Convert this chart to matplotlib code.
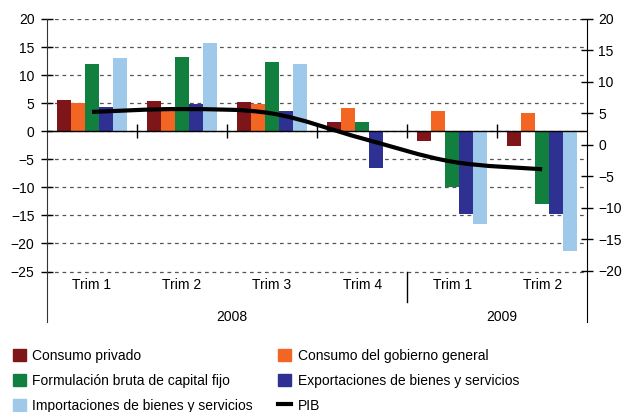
import numpy as np
import matplotlib.pyplot as plt
import matplotlib.transforms as mtransforms
from matplotlib.path import Path
from matplotlib.patches import PathPatch, Patch
from matplotlib.lines import Line2D

plt.rcParams['font.family'] = ['Liberation Sans', 'DejaVu Sans']

trimestres = ["Trim 1", "Trim 2", "Trim 3", "Trim 4", "Trim 1", "Trim 2"]
anios = ["2008", "2009"]
anio_grupos = [(0, 3), (4, 5)]

consumo_privado = [5.6, 5.4, 5.2, 1.65, -1.7, -2.6]
consumo_gobierno = [5.0, 4.3, 4.9, 4.15, 3.6, 3.25]
fbcf = [12.0, 13.2, 12.3, 1.65, -9.9, -12.9]
exportaciones = [4.3, 4.9, 3.6, -6.5, -14.8, -14.8]
importaciones = [13.0, 15.7, 12.0, 0.0, -16.5, -21.4]
pib = [5.25, 5.7, 5.0, 1.05, -2.65, -3.85]

series = [
    ("Consumo privado", consumo_privado, "#7e1519"),
    ("Consumo del gobierno general", consumo_gobierno, "#f26522"),
    ("Formulación bruta de capital fijo", fbcf, "#11803f"),
    ("Exportaciones de bienes y servicios", exportaciones, "#2e3192"),
    ("Importaciones de bienes y servicios", importaciones, "#9fc9eb"),
]


def smooth_path(xs, ys):
    # curva suave tipo Excel (Catmull-Rom -> Bezier)
    pts = np.column_stack([xs, ys]).astype(float)
    n = len(pts)
    verts = [pts[0]]
    codes = [Path.MOVETO]
    for i in range(n - 1):
        p0 = pts[i - 1] if i > 0 else pts[i]
        p1, p2 = pts[i], pts[i + 1]
        p3 = pts[i + 2] if i + 2 < n else pts[i + 1]
        verts += [p1 + (p2 - p0) / 6, p2 - (p3 - p1) / 6, p2]
        codes += [Path.CURVE4] * 3
    return Path(verts, codes)


fig = plt.figure(figsize=(6.26, 4.12), dpi=100)
ax = fig.add_axes([0.075, 0.2184, 0.863, 0.7355])
x = np.arange(len(trimestres))
w = 0.156

for i, (name, vals, color) in enumerate(series):
    ax.bar(x + (i - 2) * w, vals, w, color=color, zorder=2)

ax.set_xlim(-0.5, len(trimestres) - 0.5)
ax.set_ylim(-34, 20)
ax.set_yticks(range(-25, 21, 5))
ax.set_xticks([])
ax.yaxis.grid(True, linestyle=(0, (3, 3)), color="#555555", lw=0.9)
ax.set_axisbelow(True)
for s in ["top", "right", "bottom"]:
    ax.spines[s].set_visible(False)
ax.spines["left"].set_color("#333333")
ax.tick_params(axis="y", direction="inout", length=8, width=1, labelsize=10, pad=5)

ax.axhline(0, color="black", lw=1, zorder=3)
bordes = np.arange(0.5, len(trimestres) - 1, 1)
ax.plot(bordes, np.zeros_like(bordes), ls="none", marker="|", ms=10, mew=1,
        color="black", zorder=3)

trans = mtransforms.blended_transform_factory(ax.transData, ax.transAxes)
for i, t in enumerate(trimestres):
    ax.text(i, 0.122, t, ha="center", va="center", transform=trans, fontsize=10)
for anio, (a, b) in zip(anios, anio_grupos):
    ax.text((a + b) / 2 + 0.05, 0.018, anio, ha="center", va="center",
            transform=trans, fontsize=10)
ax.plot([3.5, 3.5], [0.066, 0.165], transform=trans, color="black", lw=1,
        clip_on=False)

ax2 = ax.twinx()
ax2.set_ylim(-28.1, 20)
ax2.set_yticks(range(-20, 21, 5))
for s in ["top", "left", "bottom"]:
    ax2.spines[s].set_visible(False)
ax2.tick_params(axis="y", direction="inout", length=8, width=1, labelsize=10, pad=4)
ax2.add_patch(PathPatch(smooth_path(x, pib), fill=False, lw=3,
                        edgecolor="black", capstyle="butt", zorder=4))

handles = [Patch(color=c) for _, _, c in series] + [Line2D([], [], color="black", lw=3)]
labels = [n for n, _, _ in series] + ["PIB"]
order = [0, 2, 4, 1, 3, 5]
fig.legend([handles[i] for i in order], [labels[i] for i in order], ncol=2,
           loc="upper left", bbox_to_anchor=(0.02, 0.153), frameon=False,
           fontsize=10, handlelength=0.95, handleheight=0.95, handletextpad=0.45,
           columnspacing=1.85, labelspacing=0.78, borderpad=0, borderaxespad=0)

fig.savefig("out.png", dpi=100)
